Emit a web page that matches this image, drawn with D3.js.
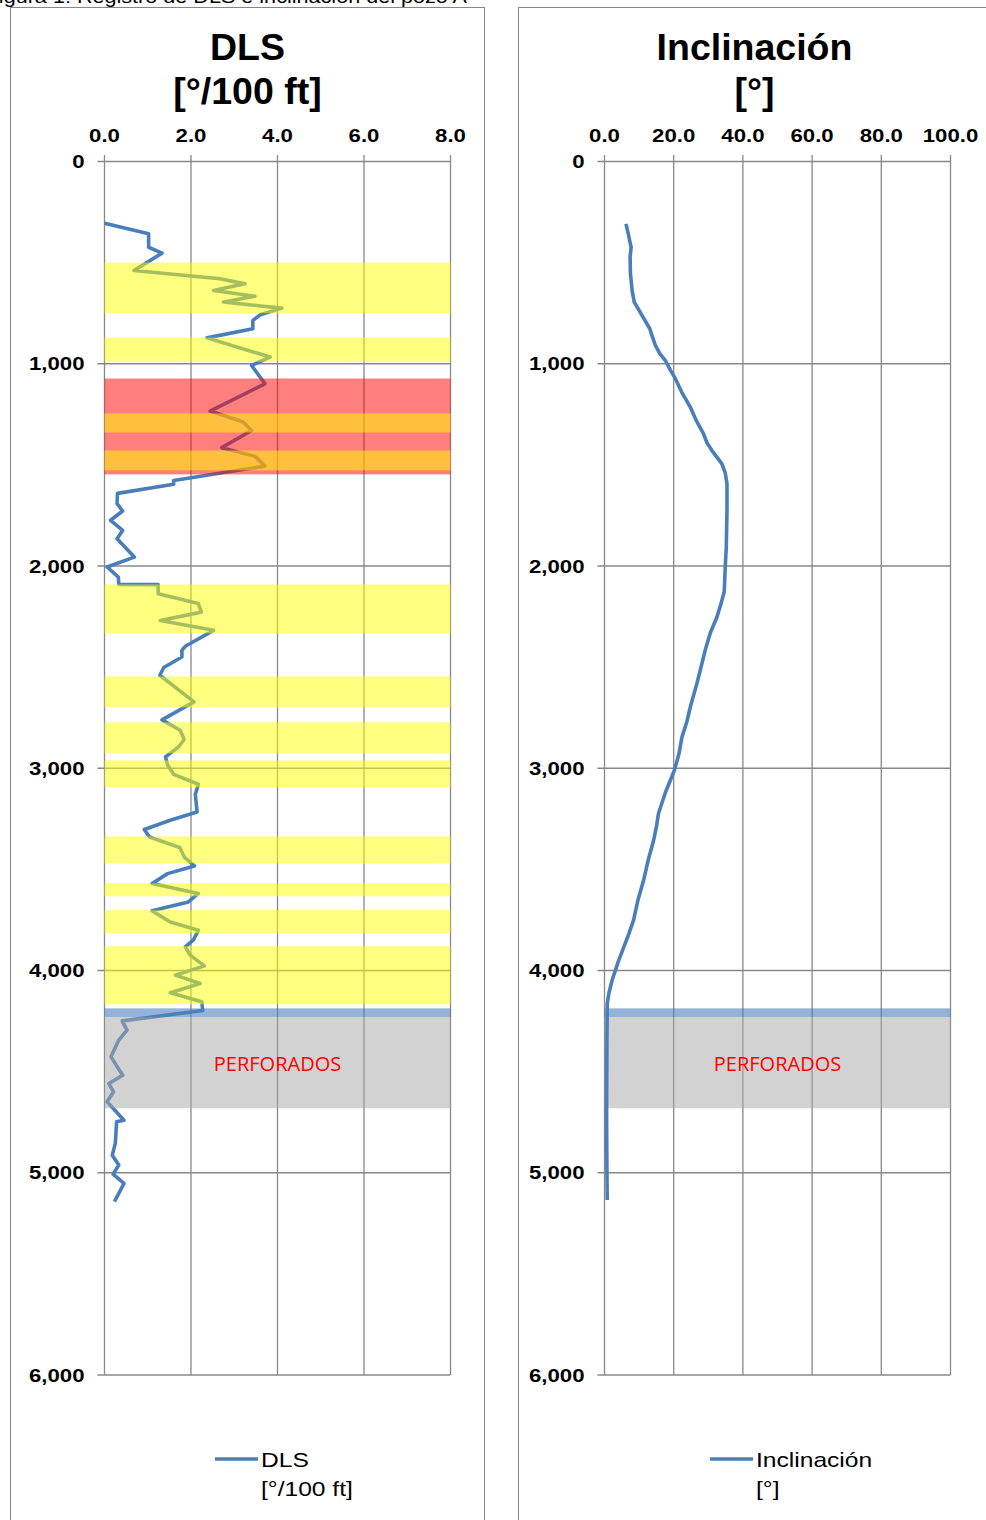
<!DOCTYPE html>
<html><head><meta charset="utf-8">
<script src="https://cdn.jsdelivr.net/npm/d3@7"></script>
<style>html,body{margin:0;padding:0;background:#fff;overflow:hidden}svg{display:block}</style>
</head><body>
<script>
// ---- data ----
const caption = "Figura 1: Registro de DLS e inclinación del pozo A";
const depthTicks = [0, 1000, 2000, 3000, 4000, 5000, 6000];
const dlsTicks = [0, 2, 4, 6, 8];
const incTicks = [0, 20, 40, 60, 80, 100];

const dlsDepth = [305,357,424,453,539,580,605,638,666,695,725,758,786,827,872,967,1008,1099,1234,1288,1330,1415,1458,1506,1577,1596,1641,1692,1728,1774,1824,1865,1956,2005,2055,2091,2092,2137,2186,2228,2269,2318,2397,2417,2450,2502,2540,2672,2761,2812,2858,2895,2944,2985,3030,3079,3129,3216,3257,3303,3340,3392,3441,3483,3521,3570,3619,3661,3705,3760,3801,3847,3883,3924,3977,4023,4064,4110,4155,4198,4249,4295,4344,4427,4518,4559,4600,4649,4740,4748,4855,4913,4962,5007,5053,5143];
const dlsValue = [0.0,1.02,1.02,1.33,0.68,2.67,3.25,2.52,3.48,2.75,4.10,3.60,3.43,3.43,2.37,3.83,3.40,3.71,2.44,3.21,3.40,2.71,3.48,3.71,1.60,1.60,0.30,0.29,0.42,0.14,0.42,0.29,0.69,0.06,0.32,0.33,1.24,1.24,2.17,2.24,1.29,2.52,1.87,1.79,1.79,1.37,1.28,2.07,1.33,1.75,1.84,1.71,1.41,1.46,1.60,2.17,2.10,2.14,1.52,0.92,1.04,1.74,1.85,2.08,1.46,1.10,2.17,1.94,1.10,1.52,2.17,2.06,1.87,1.98,2.31,1.64,2.21,1.52,2.25,2.27,0.41,0.52,0.33,0.15,0.42,0.10,0.21,0.06,0.45,0.28,0.25,0.18,0.33,0.20,0.45,0.23];

const incDepth = [308,360,424,470,555,640,695,760,827,870,909,950,984,1030,1074,1140,1214,1280,1346,1390,1428,1494,1540,1593,1725,1906,2005,2129,2190,2252,2330,2417,2500,2581,2697,2770,2845,2930,3010,3120,3224,3290,3356,3450,3554,3650,3751,3820,3883,3960,4048,4110,4163,4344,4700,5000,5135];
const incValue = [6.2,6.9,7.7,7.4,7.5,8.0,8.6,10.8,13.1,13.9,14.7,16.0,17.6,19.0,20.5,22.3,24.8,26.5,28.6,29.6,31.0,33.9,34.9,35.4,35.4,35.2,34.9,34.6,33.6,32.5,30.6,29.1,27.9,26.7,24.8,23.8,22.4,21.5,20.2,17.6,15.6,15.0,14.2,12.7,11.3,9.7,8.4,7.0,5.6,3.9,2.2,1.3,0.8,0.7,0.6,0.7,0.8];

const yellowBands = [[500,750],[870,990],[1246,1340],[1429,1527],[2091,2333],[2546,2699],[2773,2926],[2961,3094],[3337,3470],[3569,3633],[3702,3816],[3880,4167]];
const redBands = [[1073,1547]];
const blueBands = [[4187,4231]];
const grayBands = [[4231,4681]];
const bandLabel = "PERFORADOS";

const panels = [
  {title:["DLS","[°/100 ft]"], legend:["DLS","[°/100 ft]"], ticks:dlsTicks, max:8, depth:dlsDepth, value:dlsValue,
   box:[10.5,484.5], x0:104.5, x1:450.5, cx:247.5, legX:215, showYellowRed:true, lineUnder:true},
  {title:["Inclinación","[°]"], legend:["Inclinación","[°]"], ticks:incTicks, max:100, depth:incDepth, value:incValue,
   box:[518.5,1100], x0:604.5, x1:950.5, cx:754.5, legX:710, showYellowRed:false, lineUnder:false}
];

// ---- drawing ----
const W = 986, H = 1520;
const svg = d3.select("body").append("svg").attr("width", W).attr("height", H);
const FONT = "'Liberation Sans', Arial, sans-serif";
const gridColor = "#888888";
const lineColor = "#4A7EBB";
const SX = 1.2; // horizontal stretch of the source picture's small texts

svg.append("text").attr("transform", `translate(467,3) scale(${SX},1)`).attr("text-anchor","end")
  .attr("font-family", FONT).attr("font-size", 18).attr("fill","#000").text(caption);

panels.forEach(p => {
  const g = svg.append("g");
  g.append("rect").attr("x", p.box[0]).attr("y", 7.5).attr("width", p.box[1]-p.box[0]).attr("height", 1600)
    .attr("fill","none").attr("stroke","#868686").attr("stroke-width",1);

  const x = d3.scaleLinear().domain([0, p.max]).range([p.x0, p.x1]);
  const y = d3.scaleLinear().domain([0, 6000]).range([161.5, 1375]);

  // titles
  p.title.forEach((t,i) => g.append("text").attr("x", p.cx).attr("y", 60 + i*44).attr("text-anchor","middle")
    .attr("font-family", FONT).attr("font-weight","bold").attr("font-size", 37.5).text(t));

  // grid
  const grid = g.append("g");
  grid.selectAll("line.v").data(p.ticks).join("line").attr("class","v")
    .attr("x1", d=>x(d)).attr("x2", d=>x(d)).attr("y1", 155).attr("y2", y(6000))
    .attr("stroke", gridColor).attr("stroke-width", 1.3);
  grid.selectAll("line.h").data(depthTicks).join("line").attr("class","h")
    .attr("x1", p.x0-7).attr("x2", p.x1).attr("y1", d=>y(d)).attr("y2", d=>y(d))
    .attr("stroke", gridColor).attr("stroke-width", 1.3);

  // axis labels
  g.append("g").selectAll("text").data(p.ticks).join("text")
    .attr("transform", d=>`translate(${x(d)},141.5) scale(${SX},1)`).attr("text-anchor","middle")
    .attr("font-family", FONT).attr("font-weight","bold").attr("font-size", 18.5)
    .text(d=>d3.format(".1f")(d));
  g.append("g").selectAll("text").data(depthTicks).join("text")
    .attr("transform", d=>`translate(${p.x0-20},${y(d)+6.5}) scale(${SX},1)`).attr("text-anchor","end")
    .attr("font-family", FONT).attr("font-weight","bold").attr("font-size", 18.5)
    .text(d=>d3.format(",")(d));

  const line = d3.line().x(d=>x(d[1])).y(d=>y(d[0]));
  const pts = p.depth.map((d,i)=>[d, p.value[i]]);
  const drawLine = () => g.append("path").datum(pts).attr("d", line).attr("fill","none")
    .attr("stroke", lineColor).attr("stroke-width", 3.6).attr("stroke-linejoin","round");

  const bandG = (bands, color, op) => g.append("g").selectAll("rect").data(bands).join("rect")
    .attr("x", x(0)).attr("width", x(p.max)-x(0))
    .attr("y", d=>y(d[0])).attr("height", d=>y(d[1])-y(d[0]))
    .attr("fill", color).attr("fill-opacity", op);

  if (p.lineUnder) drawLine();
  if (p.showYellowRed) {
    bandG(redBands, "#FF0000", 0.5);
    bandG(yellowBands, "#FFFF00", 0.5);
  }
  bandG(blueBands, "#4F81BD", 0.6);
  bandG(grayBands, "#A6A6A6", 0.5);
  if (!p.lineUnder) drawLine();

  g.append("text").attr("x", (p.x0+p.x1)/2).attr("y", y(4500)-1).attr("text-anchor","middle")
    .attr("font-family", "'Open Sans', sans-serif").attr("font-size", 20).attr("fill","#FF0000").text(bandLabel);

  // legend
  g.append("line").attr("x1", p.legX).attr("x2", p.legX+43).attr("y1", 1459).attr("y2", 1459)
    .attr("stroke", lineColor).attr("stroke-width", 3.6);
  p.legend.forEach((t,i)=> g.append("text").attr("transform", `translate(${p.legX+46},${1467 + i*29}) scale(${SX},1)`)
    .attr("font-family", FONT).attr("font-size", 20.5).text(t));
});
</script>
</body></html>
